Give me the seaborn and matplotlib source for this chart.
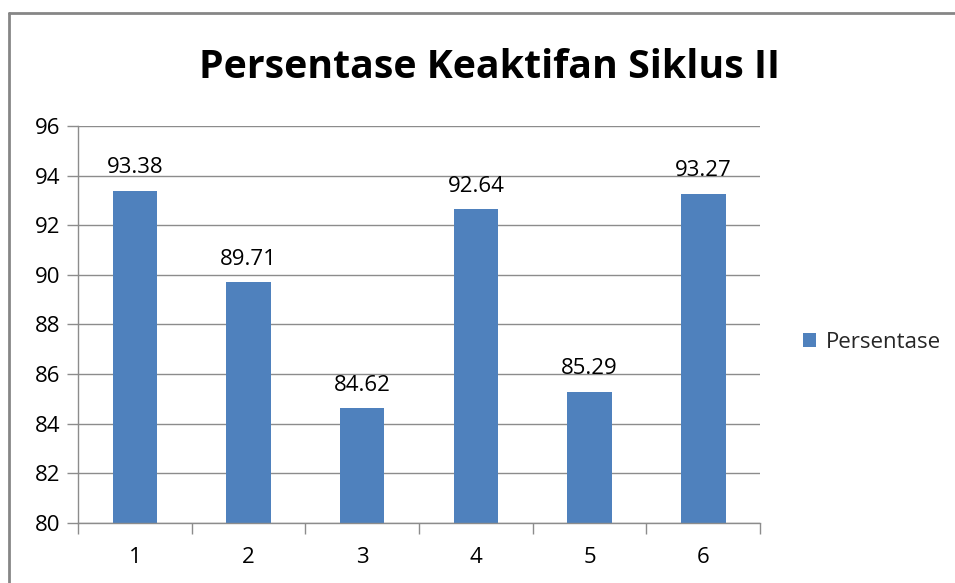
import numpy as np
import pandas as pd
import matplotlib
matplotlib.use("Agg")
import matplotlib.pyplot as plt
from matplotlib.lines import Line2D
import seaborn as sns

# Chart data
siklus = ["1", "2", "3", "4", "5", "6"]
persentase = [93.38, 89.71, 84.62, 92.64, 85.29, 93.27]
y_ticks = [80, 82, 84, 86, 88, 90, 92, 94, 96]

df = pd.DataFrame({"Siklus": siklus, "Persentase": persentase})

sns.set_theme(style="white")
plt.rcParams["font.family"] = ["Open Sans", "DejaVu Sans"]

fig = plt.figure(figsize=(9.55, 5.83), dpi=100)
ax = fig.add_axes([0.0817, 0.103, 0.7143, 0.681])

bar_color = "#4F81BD"
sns.barplot(data=df, x="Siklus", y="Persentase", color=bar_color,
            width=0.39, ax=ax, label="Persentase", saturation=1, linewidth=0)

ax.set_ylim(80, 96)
ax.set_yticks(y_ticks)
ax.set_xlim(-0.5, len(siklus) - 0.5)
ax.set_xlabel("")
ax.set_ylabel("")

# gridlines
ax.yaxis.grid(True, color="#8c8c8c", linewidth=1)
ax.set_axisbelow(True)

# spines
for s in ["top", "right"]:
    ax.spines[s].set_visible(False)
for s in ["left", "bottom"]:
    ax.spines[s].set_color("#8c8c8c")
    ax.spines[s].set_linewidth(1)

# ticks: labels at centers, tick marks at category boundaries
ax.tick_params(axis="x", which="major", length=0, pad=17, labelsize=16, colors="black")
ax.set_xticks(np.arange(-0.5, len(siklus)), minor=True)
ax.tick_params(axis="x", which="minor", bottom=True, length=8, color="#8c8c8c",
               width=1, direction="out")
ax.tick_params(axis="y", length=8, color="#8c8c8c", width=1, direction="out",
               labelsize=16, labelcolor="black", left=True, pad=5)

# value labels
for c in ax.containers:
    ax.bar_label(c, fmt="%.2f", padding=9, fontsize=16, color="black")

# title
fig.text(0.513, 0.885, "Persentase Keaktifan Siklus II", ha="center", va="center",
         fontsize=28.3, fontweight="bold", color="black")

# legend
ax.legend(loc="center left", bbox_to_anchor=(1.033, 0.455), frameon=False,
          fontsize=16, handlelength=0.6, handleheight=0.6, handletextpad=0.45)

# chart border (top and left visible)
fig.add_artist(Line2D([9 / 955, 1.0], [1 - 13 / 583, 1 - 13 / 583],
                      color="#868686", linewidth=2, transform=fig.transFigure))
fig.add_artist(Line2D([9 / 955, 9 / 955], [1 - 13 / 583, 0.0],
                      color="#868686", linewidth=2, transform=fig.transFigure))

fig.savefig("out.png", dpi=100)
